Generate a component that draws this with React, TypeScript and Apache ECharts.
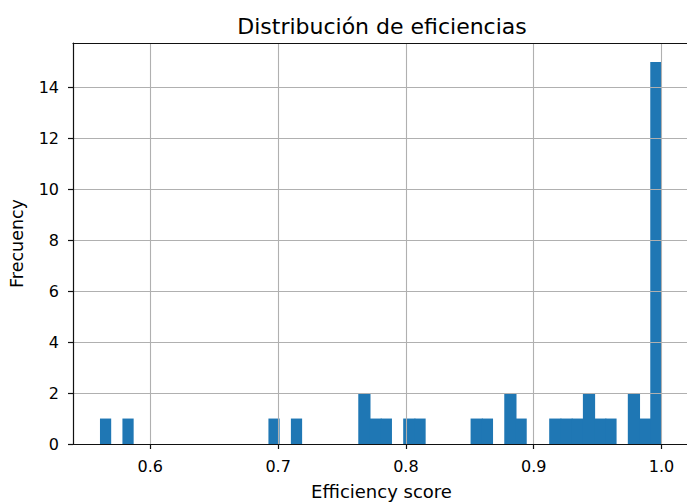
import React, { useEffect, useRef } from "react";
import * as echarts from "echarts";

// Histogram data (50 bins from binStart to binEnd)
const binStart = 0.5606;
const binEnd = 1.0;
const binCount = 50;
const counts = [
  1, 0, 1, 0, 0, 0, 0, 0, 0, 0,
  0, 0, 0, 0, 0, 1, 0, 1, 0, 0,
  0, 0, 0, 2, 1, 1, 0, 1, 1, 0,
  0, 0, 0, 1, 1, 0, 2, 1, 0, 0,
  1, 1, 1, 2, 1, 1, 0, 2, 1, 15,
];
const xTicks = [0.6, 0.7, 0.8, 0.9, 1.0];
const yTicks = [0, 2, 4, 6, 8, 10, 12, 14];
const xRange = [0.5395, 1.0223];
const yRange = [0, 15.75];

const FONT = "DejaVu Sans";

export default function App() {
  const ref = useRef<HTMLDivElement>(null);
  useEffect(() => {
    if (!ref.current) return;
    const chart = echarts.init(ref.current, null, { renderer: "svg" });
    const w = (binEnd - binStart) / binCount;
    const bars = counts
      .map((c, i) => [
        binStart + i * w,
        binStart + (i + 1) * w,
        c,
        i + 1 < counts.length && counts[i + 1] > 0 ? 1 : 0,
      ])
      .filter((d) => d[2] > 0);

    const axisLine = { show: true, onZero: false, lineStyle: { color: "#111", width: 1.2 } };
    chart.setOption({
      animation: false,
      backgroundColor: "#fff",
      textStyle: { fontFamily: FONT },
      title: {
        text: "Distribución de eficiencias",
        left: 377,
        textAlign: "center",
        top: 10,
        textStyle: { fontFamily: FONT, fontSize: 22, fontWeight: "normal", color: "#000" },
      },
      grid: {
        left: 73,
        top: 43,
        width: 617,
        height: 401,
        containLabel: false,
        outerBoundsMode: "none",
      },
      xAxis: [
        {
          type: "value",
          min: xRange[0],
          max: xRange[1],
          minInterval: 0.1,
          maxInterval: 0.1,
          name: "Efficiency score",
          nameLocation: "middle",
          nameGap: 38,
          nameTextStyle: { fontFamily: FONT, fontSize: 18, color: "#000" },
          axisLine,
          axisTick: { show: true, length: 5, customValues: xTicks, lineStyle: { color: "#111", width: 1.2 } },
          axisLabel: {
            customValues: xTicks,
            fontFamily: FONT,
            fontSize: 16,
            color: "#000",
            margin: 14,
            formatter: (v: number) => v.toFixed(1),
          },
          splitLine: { show: true, lineStyle: { color: "#b0b0b0", width: 1.1 } },
        },
        {
          type: "value",
          position: "top",
          min: xRange[0],
          max: xRange[1],
          axisLine,
          axisTick: { show: false },
          axisLabel: { show: false },
          splitLine: { show: false },
        },
      ],
      yAxis: [
        {
          type: "value",
          min: yRange[0],
          max: yRange[1],
          interval: 2,
          name: "Frecuency",
          nameLocation: "middle",
          nameGap: 47,
          nameTextStyle: { fontFamily: FONT, fontSize: 17.5, color: "#000" },
          axisLine,
          axisTick: { show: true, length: 5, customValues: yTicks, lineStyle: { color: "#111", width: 1.2 } },
          axisLabel: {
            customValues: yTicks,
            fontFamily: FONT,
            fontSize: 16,
            color: "#000",
            margin: 14,
          },
          splitLine: { show: true, lineStyle: { color: "#b0b0b0", width: 1.1 } },
        },
        {
          type: "value",
          position: "right",
          min: yRange[0],
          max: yRange[1],
          axisLine,
          axisTick: { show: false },
          axisLabel: { show: false },
          splitLine: { show: false },
        },
      ],
      series: [
        {
          type: "custom",
          z: -1,
          xAxisIndex: 0,
          yAxisIndex: 0,
          data: bars,
          renderItem: (params: any, api: any) => {
            const p0 = api.coord([api.value(0), api.value(2)]);
            const p1 = api.coord([api.value(1), 0]);
            const overlap = api.value(3) ? 1 : 0;
            return {
              type: "rect",
              shape: { x: p0[0], y: p0[1], width: p1[0] - p0[0] + overlap, height: p1[1] - p0[1] },
              style: { fill: "#1f77b4" },
            };
          },
        },
      ],
    });
    return () => chart.dispose();
  }, []);
  return (
    <div
      ref={ref}
      style={{ position: "absolute", left: 0, top: 0, width: 687, height: 502 }}
    />
  );
}
